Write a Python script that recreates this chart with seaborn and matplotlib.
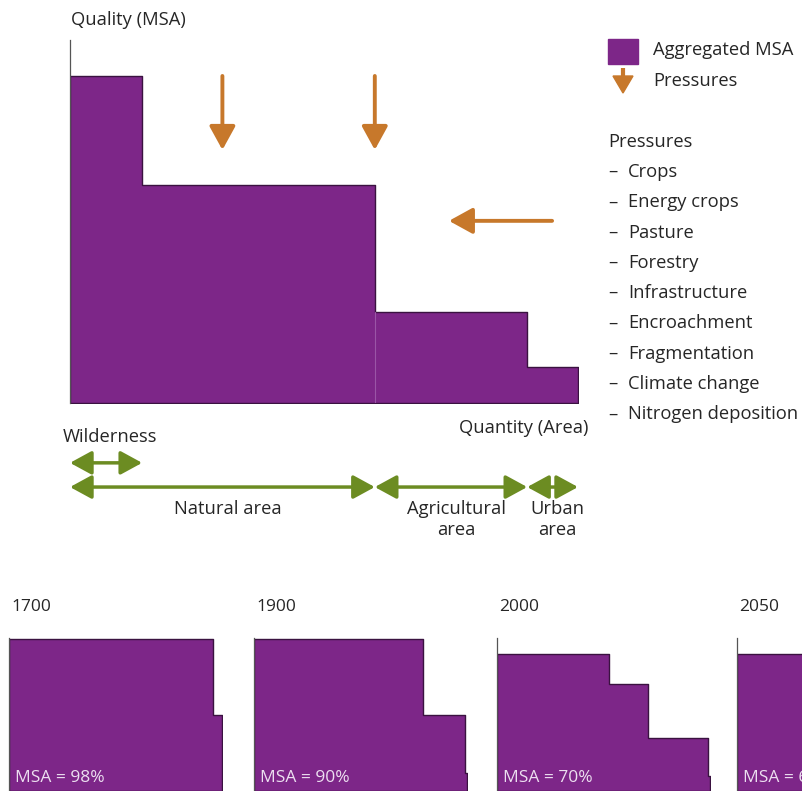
import numpy as np
import pandas as pd
import seaborn as sns
import matplotlib.pyplot as plt
from matplotlib.patches import Rectangle, Polygon

sns.set_theme(style="white")
plt.rcParams['font.family'] = ['Open Sans', 'DejaVu Sans']

PURPLE = "#7d2688"
EDGE = "#3a1240"
ORANGE = "#c7782b"
GREEN = "#6c8c22"
TXT = "#262626"
FS = 13.2

W, H = 803, 791

# main chart: land-use classes along the area axis (% of area) and their MSA (%)
area_edges = [0, 14.2, 60, 90, 100]
area_msa = [100, 66.7, 27.8, 11]

# arrows below the chart: (start, end) along the area axis
wild_span = (0, 14.2)
use_spans = [(0, 60), (60, 90), (90, 100)]
use_labels = ["Natural area", "Agricultural\narea", "Urban\narea"]

# pressure arrows (area %, MSA %)
down_x = [30, 60]
down_from, down_to = 100, 77.4
side_y = 55.7
side_from, side_to = 94.9, 74.6

pressures = ["Crops", "Energy crops", "Pasture", "Forestry", "Infrastructure",
             "Encroachment", "Fragmentation", "Climate change", "Nitrogen deposition"]

# small panels
years = ["1700", "1900", "2000", "2050"]
panel_edges = [
    [0, 95.8, 100],
    [0, 79.4, 99, 100],
    [0, 52.6, 70.9, 99.1, 100],
    [0, 45, 62, 99, 100],
]
panel_msa = [
    [100, 50],
    [100, 50, 12],
    [90, 70, 35, 10],
    [90, 65, 30, 8],
]
msa_totals = ["98%", "90%", "70%", "63%"]


def box(x0, y0, x1, y1):
    return [x0 / W, 1 - y1 / H, (x1 - x0) / W, (y1 - y0) / H]


def steps(ax, edges, heights):
    mids = [(a + b) / 2 for a, b in zip(edges[:-1], edges[1:])]
    df = pd.DataFrame({"area": mids, "msa": heights})
    sns.histplot(data=df, x="area", weights="msa", bins=list(edges), element="step",
                 fill=True, color=PURPLE, alpha=1, edgecolor=EDGE, linewidth=1.0, ax=ax)
    ax.set_xlabel("")
    ax.set_ylabel("")
    ax.set_xticks([])
    ax.set_yticks([])
    for s in ["top", "right", "bottom"]:
        ax.spines[s].set_visible(False)
    ax.spines["left"].set_color("#555555")
    ax.spines["left"].set_linewidth(0.9)


def arrow(ax, x0, y0, x1, y1, style, color, ms, lw):
    ax.annotate("", xy=(x1, y1), xytext=(x0, y0), xycoords="data",
                arrowprops=dict(arrowstyle=style, mutation_scale=ms, lw=lw,
                                color=color, shrinkA=0, shrinkB=0),
                annotation_clip=False)


fig = plt.figure(figsize=(W / 100, H / 100), dpi=100)

# overlay for free text and legend, in pixels
ov = fig.add_axes([0, 0, 1, 1])
ov.set_xlim(0, W)
ov.set_ylim(H, 0)
ov.axis("off")

# main chart
ax = fig.add_axes(box(70, 40, 578, 403))
steps(ax, area_edges, area_msa)
ax.set_xlim(0, 100)
ax.set_ylim(0, 111)
ax.plot([area_edges[2]] * 2, [0, area_msa[2]], color="#9a55a6", lw=0.8)

o_style = "-|>,head_length=0.6,head_width=0.33"
for x in down_x:
    arrow(ax, x, down_from, x, down_to, o_style, ORANGE, 24, 2.8)
arrow(ax, side_from, side_y, side_to, side_y, o_style, ORANGE, 24, 2.8)

g_style = "<|-|>,head_length=0.55,head_width=0.3"
arrow(ax, wild_span[0], -18.3, wild_span[1], -18.3, g_style, GREEN, 24, 2.5)
for (a, b), lab in zip(use_spans, use_labels):
    arrow(ax, a, -25.7, b, -25.7, g_style, GREEN, 24, 2.5)
    ax.text((a + b) / 2 + 1, -29.8, lab, ha="center", va="top", fontsize=FS,
            color=TXT, linespacing=1.2, clip_on=False)

ov.text(71, 20, "Quality (MSA)", fontsize=FS, color=TXT, va="center")
ov.text(588, 428, "Quantity (Area)", fontsize=FS, color=TXT, va="center", ha="right")
ov.text(63, 437, "Wilderness", fontsize=FS, color=TXT, va="center")

# legend
ov.add_patch(Rectangle((608, 39), 30, 25, color=PURPLE))
ov.text(653, 50, "Aggregated MSA", fontsize=FS, color=TXT, va="center")
ov.plot([623, 623], [68, 78], color=ORANGE, lw=3, solid_capstyle="butt")
ov.add_patch(Polygon([[613, 76], [633, 76], [623, 93]], color=ORANGE))
ov.text(653, 81, "Pressures", fontsize=FS, color=TXT, va="center")

ov.text(608, 142, "Pressures", fontsize=FS, color=TXT, va="center")
for i, p in enumerate(pressures):
    y = 172 + i * 30.3
    ov.text(608, y, "\u2013", fontsize=FS, color=TXT, va="center")
    ov.text(628, y, p, fontsize=FS, color=TXT, va="center")

# small panels
for i, (yr, e, h, tot) in enumerate(zip(years, panel_edges, panel_msa, msa_totals)):
    x0 = [9, 254, 497, 737][i]
    pax = fig.add_axes(box(x0, 638, x0 + 213, 791))
    steps(pax, e, h)
    pax.set_xlim(0, 100)
    pax.set_ylim(0, 100.5)
    ov.text(x0 + 2, 607, yr, fontsize=12.5, color=TXT, va="center")
    ov.text(x0 + 6, 778, "MSA = " + tot, fontsize=12.5, color="#ecdff0", va="center")

ov.set_zorder(5)
ov.patch.set_alpha(0)

fig.savefig("out.png", dpi=100)
